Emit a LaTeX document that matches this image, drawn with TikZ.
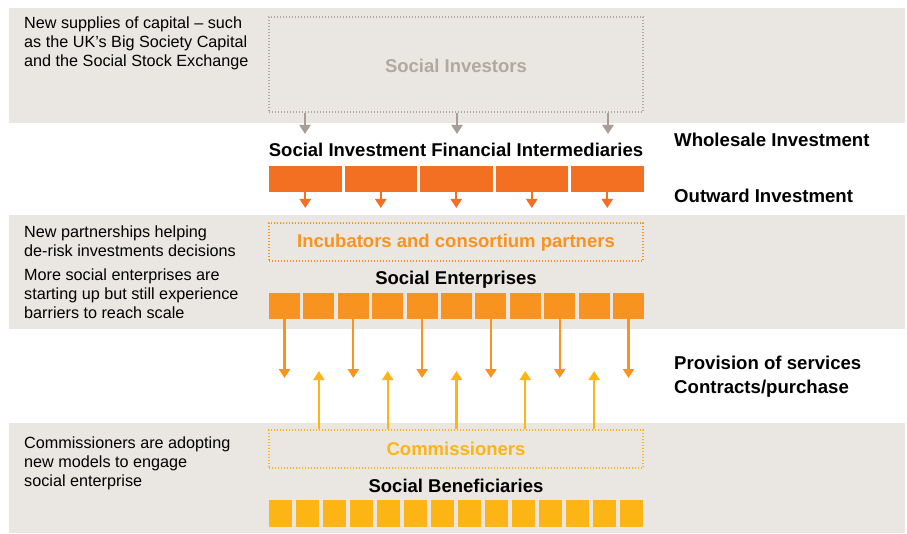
\documentclass[tikz,border=0pt]{standalone}
\usepackage{fontspec}
\setmainfont{Liberation Sans}
\usetikzlibrary{arrows.meta}
\definecolor{panel}{HTML}{EAE6E2}
\definecolor{invgrey}{HTML}{B3A89F}
\definecolor{arrgrey}{HTML}{A99D95}
\definecolor{dorange}{HTML}{F36F21}
\definecolor{morange}{HTML}{F7931E}
\definecolor{myellow}{HTML}{FDB515}
\tikzset{
  dotbox/.style={draw, line width=1.4pt, dash pattern=on 1.4pt off 1.6pt, minimum width=374pt, inner sep=0pt},
  ttl/.style={anchor=base, inner sep=0pt, font=\bfseries\fontsize{18.5}{20}\selectfont},
  rlab/.style={anchor=base west, inner sep=0pt, font=\bfseries\fontsize{18.6}{20}\selectfont},
  lt/.style={anchor=base west, inner sep=0pt, font=\fontsize{16.2}{19}\selectfont},
  sq/.style={inner sep=0pt, outer sep=0pt},
  arr/.style={line width=2.2pt, -{Triangle[width=11pt,length=9pt]}},
}
\begin{document}
\begin{tikzpicture}[x=1pt,y=-1pt]
\useasboundingbox (0,0) rectangle (907,534);
% panels
\fill[panel] (9,8) rectangle (905,123);
\fill[panel] (9,215) rectangle (905,329);
\fill[panel] (9,423) rectangle (905,533);

% left texts
\node[lt] (a1) at (24,29) {New supplies of capital – such};
\node[lt] (a2) at (24,48) {as the UK’s Big Society Capital};
\node[lt] (a3) at (24,67) {and the Social Stock Exchange};
\node[lt] (b1) at (24,238) {New partnerships helping};
\node[lt] (b2) at (24,257) {de-risk investments decisions};
\node[lt] (b3) at (24,281) {More social enterprises are};
\node[lt] (b4) at (24,300) {starting up but still experience};
\node[lt] (b5) at (24,319) {barriers to reach scale};
\node[lt] (c1) at (24,448) {Commissioners are adopting};
\node[lt] (c2) at (24,467) {new models to engage};
\node[lt] (c3) at (24,486) {social enterprise};

% right labels
\node[rlab] (r1) at (674,147) {Wholesale Investment};
\node[rlab] (r2) at (674,203) {Outward Investment};
\node[rlab] (r3) at (674,370) {Provision of services};
\node[rlab] (r4) at (674,393) {Contracts/purchase};

% social investors
\node[dotbox, draw=invgrey, minimum height=95pt] (inv) at (456,64.5) {};
\node[ttl, text=invgrey] (invt) at (456,73) {Social Investors};
\foreach \x [count=\i] in {305,457,608} {
  \coordinate (ga\i) at (\x,134);
  \draw[arr, arrgrey] (inv.south -| ga\i) -- (ga\i);
}

% intermediaries
\node[ttl] (sifi) at (456,157) {Social Investment Financial Intermediaries};
\foreach \i in {1,...,5} {
  \node[sq, fill=dorange, minimum width=72.5pt, minimum height=26pt] (ib\i) at ({305.25+75.5*(\i-1)},179) {};
  \coordinate (ia\i) at ({305.25+75.5*(\i-1)},208);
  \draw[arr, dorange] (ib\i.south) -- (ia\i);
}

% incubators
\node[dotbox, draw=morange, minimum height=38pt] (inc) at (456,242) {};
\node[ttl, text=morange] (inct) at (456,248) {Incubators and consortium partners};

% social enterprises
\node[ttl] (se) at (456,285) {Social Enterprises};
\foreach \i in {1,...,11} {
  \node[sq, fill=morange, minimum width=31pt, minimum height=26pt] (s\i) at ({284.5+34.4*(\i-1)},306) {};
}
\foreach \i in {1,3,5,7,9,11} {
  \coordinate (sd\i) at (s\i |- 0,378);
  \draw[arr, morange] (s\i.south) -- (sd\i);
}

% commissioners
\node[dotbox, draw=myellow, minimum height=38pt] (com) at (456,449) {};
\node[ttl, text=myellow] (comt) at (456,455) {Commissioners};
\foreach \i in {2,4,6,8,10} {
  \coordinate (su\i) at (s\i |- 0,371);
  \draw[arr, myellow] (com.north -| s\i) -- (su\i);
}

% beneficiaries
\node[ttl] (sb) at (456,492) {Social Beneficiaries};
\foreach \i in {1,...,14} {
  \node[sq, fill=myellow, minimum width=23pt, minimum height=27pt] (y\i) at ({280.5+27*(\i-1)},513.5) {};
}
\end{tikzpicture}
\end{document}
